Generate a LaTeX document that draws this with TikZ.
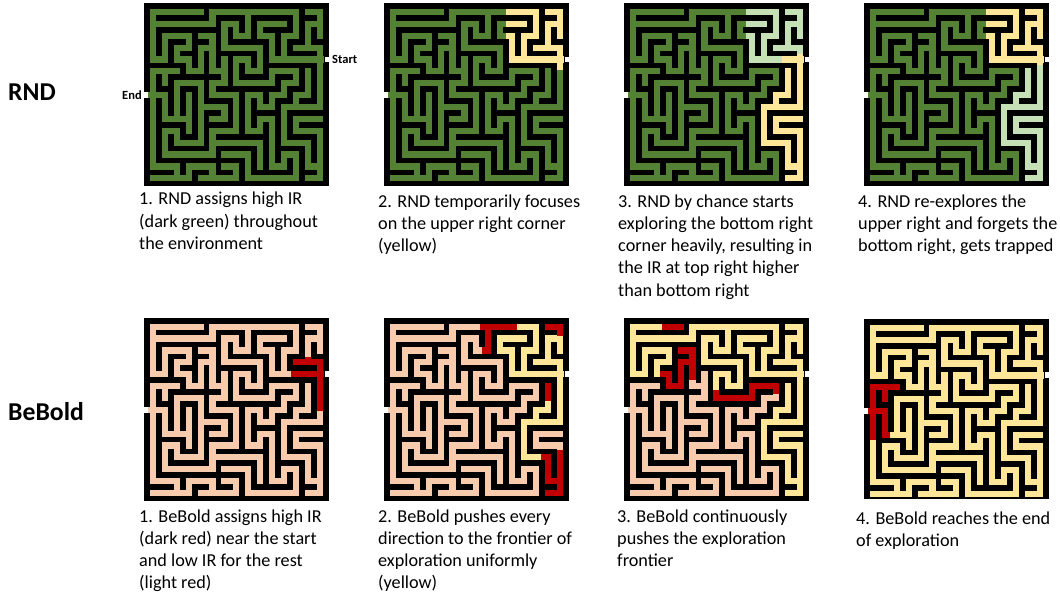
\documentclass[tikz,border=0pt]{standalone}
\usepackage{fontspec}
\setmainfont{Carlito}
\definecolor{mgreen}{HTML}{548235}
\definecolor{mlight}{HTML}{C5E0B4}
\definecolor{myel}{HTML}{FFE699}
\definecolor{mpeach}{HTML}{F8CBAD}
\definecolor{mred}{HTML}{C00000}
\tikzset{
  mazeat/.style 2 args={shift={(#1,#2)},x=11.9pt,y=-11.88pt},
  corr/.style={line width=6.2pt,line cap=rect,line join=miter,draw=#1},
  capnode/.style={anchor=north west,align=left,inner sep=0pt,font=\fontsize{18.2}{22.2}\selectfont},
  rowlab/.style={anchor=west,inner sep=0pt,font=\fontsize{25.7}{28}\selectfont\bfseries},
  endlab/.style={inner sep=0pt,font=\fontsize{12.5}{14}\selectfont\bfseries}
}
\newcommand\mzall{
 (4,0)--(0,0)--(0,4)--(1,4)--(1,2)--(3,2)--(3,3)--(2,3)--(2,4)--(3,4)--(3,5)--(4,5)--(4,3)--(5,3)
 (4,2)--(5,2)--(5,5)--(6,5)
 (6,4)--(6,6)--(5,6)--(5,7)--(7,7)--(7,10)--(5,10)--(5,12)--(1,12)--(1,10)--(2,10)--(2,11)--(4,11)--(4,6)--(2,6)--(2,9)
 (0,1)--(5,1)--(5,0)--(12,0)--(12,2)--(11,2)--(11,4)
 (11,1)--(9,1)--(9,2)--(10,2)--(10,4)--(14.1,4)
 (13,0)--(14,0)--(14,1)--(13,1)--(13,3)
 (14,1)--(14,2)
 (12,3)--(14,3)--(14,8)--(11,8)--(11,11)--(13,11)--(13,13)--(14,13)--(14,14)--(13,14)
 (14,9)--(12,9)--(12,10)--(14,10)--(14,13)
 (13,5)--(13,7)--(12,7)--(12,8)
 (10,6)--(10,5)--(12,5)--(12,6)--(11,6)--(11,7)--(10,7)--(10,8)--(9,8)--(9,7)--(8,7)--(8,10)--(9,10)--(9,9)--(10,9)--(10,13)--(11,13)--(11,12)--(12,12)--(12,14)--(8,14)--(8,12)--(6,12)
 (8,0)--(8,2)--(7,2)--(7,1)--(6,1)--(6,3)--(9,3)--(9,5)--(8,5)--(8,4)--(7,4)--(7,6)--(10,6)
 (5,11)--(9,11)--(9,13)
 (2,5)--(0,5)--(0,13)--(2,13)--(2,14)--(0,14)
 (1,5)--(1,6)
 (-0.15,7)--(1,7)--(1,9)--(3,9)
 (3,7)--(3,10)
 (4,8)--(6,8)--(6,9)--(5,9)
 (6,13)--(7,13)--(7,14)--(4,14)
 (2,14)--(3,14)--(3,13)--(5,13)--(5,14)
}
% upper-right part, without the last stretch of column 14 and row 0/row 4 starts
\newcommand\mzupA{
 (12,0)--(12,2)--(11,2)--(11,4)
 (11,1)--(9.77,1)
 (9.77,2)--(10,2)--(10,4)
 (12,3)--(14,3)
 (13,3)--(13,1)--(14,1)--(14,2)
 (14,1)--(14,0)--(13,0)
}
\newcommand\mzlowA{
 (14,8)--(11,8)--(11,11)--(13,11)--(13,13)--(14,13)--(14,14)--(13,14)
 (14,9)--(12,9)--(12,10)--(14,10)--(14,13)
 (13,5)--(13,7)--(12,7)--(12,8)
}
\newcommand\mzbase[2]{%
 \fill[black] (-0.75,-0.75) rectangle (14.75,#2);
 \draw[corr=#1] \mzall;
}
\newcommand\mzstart{\fill[white] (14.45,3.75) rectangle (14.75,4.25);}
\newcommand\mzend{\fill[white] (-0.75,6.75) rectangle (-0.38,7.25);}
\begin{document}
\begin{tikzpicture}[x=1pt,y=-1pt]
\useasboundingbox (0,0) rectangle (1060,594);
% ---- RND row
\begin{scope}[mazeat={153}{12}]
 \mzbase{mgreen}{14.65}\mzstart\mzend
\end{scope}
\begin{scope}[mazeat={393}{12}]
 \mzbase{mgreen}{14.65}\mzstart\mzend
 \draw[corr=myel] \mzupA (9.77,0)--(12,0) (10,4)--(14.1,4) (14,3)--(14,4.6);
\end{scope}
\begin{scope}[mazeat={633}{12}]
 \mzbase{mgreen}{14.65}\mzstart\mzend
 \draw[corr=mlight] \mzupA (9.77,0)--(12,0) (10,4)--(12.22,4) (14,3)--(14,3.32);
 \draw[corr=myel] (12.78,4)--(14.1,4) (14,3.82)--(14,8) \mzlowA;
\end{scope}
\begin{scope}[mazeat={873}{12}]
 \mzbase{mgreen}{14.65}\mzstart\mzend
 \draw[corr=mlight] (14,4.72)--(14,8) \mzlowA;
 \draw[corr=myel] \mzupA (9.77,0)--(12,0) (10,4)--(14.1,4) (14,3)--(14,4.2);
\end{scope}
% ---- BeBold row
\begin{scope}[mazeat={153}{326.7}]
 \mzbase{mpeach}{14.65}\mzstart\mzend
 \draw[corr=mred] (11.88,4)--(14.1,4) (12,3)--(14,3)--(14,6.83) (13,3)--(13,2.78);
\end{scope}
\begin{scope}[mazeat={393}{326.7}]
 \mzbase{mpeach}{14.65}\mzstart\mzend
 \draw[corr=myel] (10.67,0)--(12,0)--(12,2)--(11,2)--(11,4)
   (11,1)--(9,1)--(9,2)--(10,2)--(10,4)--(14.1,4)
   (12,3)--(14,3)--(14,8)--(11,8)--(11,11)--(12.22,11)
   (13,3)--(13,1)--(14,1)--(14,2)
   (13,6.49)--(13,7)--(12,7)--(12,8);
 \draw[corr=mred] (7.58,0)--(10.17,0) (8,0)--(8,2)--(7.78,2)
   (13,0)--(14,0)--(14,0.53)
   (13,5)--(13,5.99)
   (12.72,11)--(13,11)--(13,13)--(14,13)--(14,14)--(13,14)
   (14,13)--(14,10.64);
\end{scope}
\begin{scope}[mazeat={633}{326.7}]
 \mzbase{mpeach}{14.65}\mzstart\mzend
 \draw[corr=myel] (2.18,0)--(0,0)--(0,4)--(1,4)--(1,2)--(3,2)--(3,3)--(2,3)--(2,4)
   (0,1)--(5,1)--(5,0)--(12,0)--(12,2)--(11,2)--(11,4)
   (11,1)--(9,1)--(9,2)--(10,2)--(10,4)--(14.1,4)
   (13,0)--(14,0)--(14,1)--(13,1)--(13,3) (14,1)--(14,2)
   (12,3)--(14,3)--(14,8)
   (8,0)--(8,2)--(7,2)--(7,1)--(6,1)--(6,3)--(9,3)--(9,5)--(8,5)--(8,4)--(7,4)--(7,5.09)
   \mzlowA;
 \draw[corr=mred] (2.68,0)--(4,0)
   (2.53,4)--(3,4)--(3,5)--(4,5)--(4,3)--(5,3)
   (4,2)--(5,2)--(5,4.24)
   (7,5.59)--(7,6)--(10,6)--(10,5)--(12,5)--(12,5.42);
\end{scope}
\begin{scope}[mazeat={873}{328},y=-11.85pt]
 \mzbase{myel}{14.45}\mzstart\mzend
 \draw[corr=mred] (2,5)--(0,5)--(0,9.21) (1,5)--(1,6)
   (-0.15,7)--(1,7)--(1,9)--(1.17,9);
\end{scope}
% ---- labels
\node[rowlab] (rnd) at (8,92) {RND};
\node[rowlab] (bebold) at (8,412) {BeBold};
\node[endlab,anchor=west] (start) at (332,59) {Start};
\node[endlab,anchor=west] (end) at (122,95) {End};
\node[capnode] (a1) at (139,192) {1. RND assigns high IR\\(dark green) throughout\\the environment};
\node[capnode] (a2) at (378,194.5) {2. RND temporarily focuses\\on the upper right corner\\(yellow)};
\node[capnode] (a3) at (618,194.5) {3. RND by chance starts\\exploring the bottom right\\corner heavily, resulting in\\the IR at top right higher\\than bottom right};
\node[capnode] (a4) at (858,194.5) {4. RND re-explores the\\upper right and forgets the\\bottom right, gets trapped};
\node[capnode] (b1) at (139,509.5) {1. BeBold assigns high IR\\(dark red) near the start\\and low IR for the rest\\(light red)};
\node[capnode] (b2) at (378,509.5) {2. BeBold pushes every\\direction to the frontier of\\exploration uniformly\\(yellow)};
\node[capnode] (b3) at (617,509.5) {3. BeBold continuously\\pushes the exploration\\frontier};
\node[capnode] (b4) at (856,511.5) {4. BeBold reaches the end\\of exploration};
\end{tikzpicture}
\end{document}
